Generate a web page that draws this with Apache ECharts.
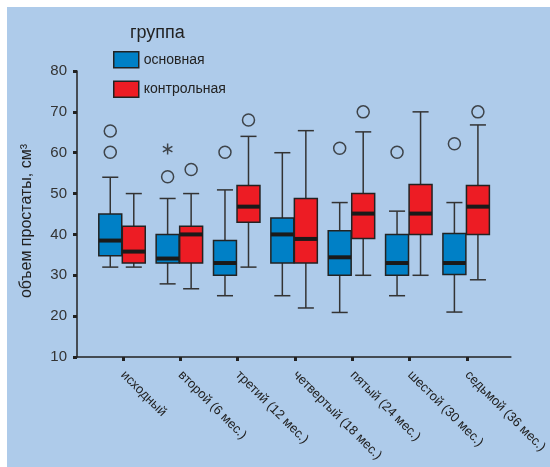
<!DOCTYPE html>
<html>
<head>
<meta charset="utf-8">
<script src="https://cdn.jsdelivr.net/npm/echarts@6/dist/echarts.min.js"></script>
<style>
html,body{margin:0;padding:0;background:#fff;}
#chart{width:550px;height:467px;}
</style>
</head>
<body>
<div id="chart"></div>
<script>
// ---- data ----
const categories = ['исходный','второй (6 мес.)','третий (12 мес.)','четвертый (18 мес.)','пятый (24 мес.)','шестой (30 мес.)','седьмой (36 мес.)'];
const yTicks = [10,20,30,40,50,60,70,80];
const groupNames = ['основная','контрольная'];
// [low whisker, Q1, median, Q3, high whisker]
const mainBoxes = [
  [32, 34.8, 38.5, 45, 54],
  [27.9, 33, 34.1, 40, 48.8],
  [25, 30, 33, 38.5, 50.9],
  [25, 33, 40, 44, 60],
  [20.9, 30, 34.4, 40.9, 47.8],
  [25, 30, 33, 40, 45.7],
  [21, 30.2, 33, 40.2, 47.8]
];
const controlBoxes = [
  [32, 33, 35.8, 42, 50],
  [26.7, 33, 40, 42, 50],
  [32, 43, 46.8, 52, 64],
  [22, 33, 38.9, 48.8, 65.4],
  [30, 39, 45.1, 50, 65.1],
  [30, 40, 45.1, 52.2, 70],
  [28.9, 40, 46.8, 52, 66.8]
];
// [category number (1-based), value]
const mainOutliers = [[1,65.3],[1,60.1],[2,54.1],[3,60.1],[5,61.1],[6,60.1],[7,62.2]];
const mainExtremes = [[2,60.9]];
const controlOutliers = [[2,55.9],[3,68],[5,70],[7,70]];

// ---- style ----
const BLUE = '#0080C6', RED = '#ED1C24', DARK = '#222';
const OFF_MAIN = -0.22, OFF_CTRL = 0.19, BOX_W = 0.4, CAP_W = 0.28;

function boxRenderer(offset, color) {
  return function (params, api) {
    const x = api.value(0) + offset;
    const pL = api.coord([x, api.value(1)]);
    const pQ1 = api.coord([x, api.value(2)]);
    const pM = api.coord([x, api.value(3)]);
    const pQ3 = api.coord([x, api.value(4)]);
    const pH = api.coord([x, api.value(5)]);
    const w = api.size([BOX_W, 0])[0];
    const cw = api.size([CAP_W, 0])[0];
    const cx = pL[0];
    const ws = {stroke: '#333', lineWidth: 1.5};
    return {type: 'group', children: [
      {type: 'line', shape: {x1: cx, y1: pH[1], x2: cx, y2: pQ3[1]}, style: ws},
      {type: 'line', shape: {x1: cx, y1: pQ1[1], x2: cx, y2: pL[1]}, style: ws},
      {type: 'line', shape: {x1: cx - cw/2, y1: pH[1], x2: cx + cw/2, y2: pH[1]}, style: ws},
      {type: 'line', shape: {x1: cx - cw/2, y1: pL[1], x2: cx + cw/2, y2: pL[1]}, style: ws},
      {type: 'rect', shape: {x: cx - w/2, y: pQ3[1], width: w, height: pQ1[1] - pQ3[1]},
        style: {fill: color, stroke: DARK, lineWidth: 1.5}},
      {type: 'line', shape: {x1: cx - w/2, y1: pM[1], x2: cx + w/2, y2: pM[1]},
        style: {stroke: '#1a1a1a', lineWidth: 4}}
    ]};
  };
}

function toSeriesData(boxes) {
  return boxes.map((b, i) => [i + 1].concat(b));
}
function shift(points, off) {
  return points.map(p => [p[0] + off, p[1]]);
}

const chart = echarts.init(document.getElementById('chart'), null, {renderer: 'canvas'});
const FONT = 'Liberation Sans, Arial, sans-serif';
chart.setOption({
  animation: false,
  backgroundColor: '#fff',
  textStyle: {fontFamily: FONT},
  graphic: [{type: 'rect', z: -10, shape: {x: 7, y: 7, width: 543, height: 460}, style: {fill: '#AECBEA'}}],
  title: {text: 'группа', left: 125, top: 19,
    textStyle: {fontFamily: FONT, fontSize: 18, fontWeight: 'normal', color: DARK}},
  legend: {
    orient: 'vertical', left: 108, top: 46, itemWidth: 25, itemHeight: 16, itemGap: 12,
    icon: 'rect',
    textStyle: {fontFamily: FONT, fontSize: 14, color: DARK},
    data: [
      {name: groupNames[0], itemStyle: {color: BLUE, borderColor: DARK, borderWidth: 1.5}},
      {name: groupNames[1], itemStyle: {color: RED, borderColor: DARK, borderWidth: 1.5}}
    ]
  },
  grid: {left: 77, right: 39, top: 71, bottom: 110},
  xAxis: {
    type: 'value', min: 0.2, max: 7.765,
    splitLine: {show: false},
    axisLine: {show: true, lineStyle: {color: DARK, width: 1.5}},
    axisTick: {show: true, customValues: categories.map((c, i) => i + 1), length: 4,
      lineStyle: {color: DARK, width: 3}},
    axisLabel: {show: true, customValues: categories.map((c, i) => i + 1), rotate: -45, margin: 16,
      fontFamily: FONT, fontSize: 13, color: DARK,
      formatter: v => categories[Math.round(v) - 1] || ''}
  },
  yAxis: {
    type: 'value', min: yTicks[0], max: yTicks[yTicks.length - 1], interval: 10,
    name: 'объем простаты, см³', nameLocation: 'middle', nameGap: 42,
    nameTextStyle: {fontFamily: FONT, fontSize: 16, color: DARK, padding: [0, 14, 0, 0]},
    splitLine: {show: false},
    axisLine: {show: true, lineStyle: {color: DARK, width: 1.5}},
    axisTick: {show: true, length: 4, lineStyle: {color: DARK, width: 3}},
    axisLabel: {margin: 10, fontFamily: FONT, fontSize: 15, color: '#333'}
  },
  series: [
    {name: groupNames[0], type: 'custom', renderItem: boxRenderer(OFF_MAIN, BLUE),
      itemStyle: {color: BLUE}, encode: {x: 0, y: [1, 2, 3, 4, 5]}, data: toSeriesData(mainBoxes)},
    {name: groupNames[1], type: 'custom', renderItem: boxRenderer(OFF_CTRL, RED),
      itemStyle: {color: RED}, encode: {x: 0, y: [1, 2, 3, 4, 5]}, data: toSeriesData(controlBoxes)},
    {type: 'scatter', symbol: 'circle', symbolSize: 12, z: 5,
      itemStyle: {color: 'rgba(0,0,0,0)', borderColor: DARK, borderWidth: 1.5},
      data: shift(mainOutliers, OFF_MAIN).concat(shift(controlOutliers, OFF_CTRL))},
    {type: 'scatter', symbol: 'path://M0,-6L0,6M-5.2,-3L5.2,3M-5.2,3L5.2,-3', symbolSize: 11, z: 5,
      symbolKeepAspect: true,
      itemStyle: {color: 'rgba(0,0,0,0)', borderColor: DARK, borderWidth: 1.5},
      data: shift(mainExtremes, OFF_MAIN)}
  ]
});
</script>
</body>
</html>
